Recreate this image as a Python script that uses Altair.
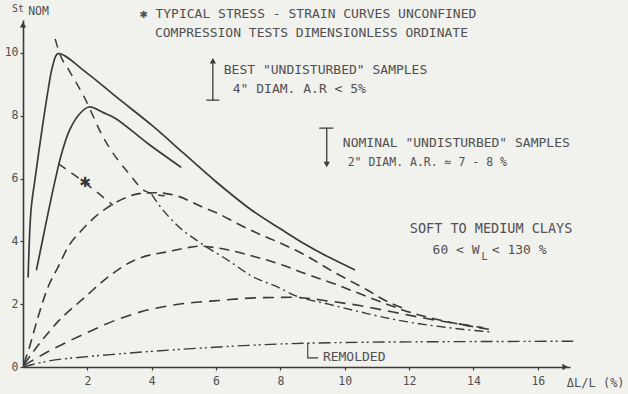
import altair as alt
import pandas as pd

# ---------------- data ----------------
# Best "undisturbed" samples (solid)
s1_x = [0.16, 0.25, 0.37, 0.59, 0.78, 0.93, 1.09, 2.0, 2.9, 4.0, 5.0, 6.0, 7.1, 8.0, 8.7, 9.5, 10.3]
s1_y = [2.87, 5.0, 5.96, 7.55, 8.82, 9.62, 9.98, 9.35, 8.6, 7.7, 6.8, 5.9, 5.0, 4.4, 3.95, 3.5, 3.1]
s2_x = [0.42, 0.62, 0.80, 1.0, 1.2, 1.45, 1.75, 2.05, 2.5, 2.9, 3.9, 4.9]
s2_y = [3.1, 4.1, 5.0, 5.95, 6.8, 7.55, 8.05, 8.28, 8.1, 7.9, 7.1, 6.37]

# Nominal "undisturbed" samples (dashed)
d1_x = [0.03, 0.19, 0.47, 0.78, 1.09, 1.4, 1.83, 2.24, 2.6, 3.17, 3.6, 4.1, 4.78, 5.56, 6.1, 6.6, 7.3, 8.06, 8.7, 9.7, 10.7, 11.2, 11.8]
d1_y = [0.1, 0.6, 1.6, 2.55, 3.18, 3.82, 4.36, 4.78, 5.06, 5.38, 5.52, 5.55, 5.45, 5.1, 4.87, 4.6, 4.25, 3.92, 3.6, 3.0, 2.45, 2.15, 1.88]
d2_x = [0.03, 0.5, 1.1, 1.9, 2.6, 3.4, 4.0, 4.4, 5.0, 5.5, 6.1, 7.1, 8.06, 8.7, 9.7, 10.8, 12.1, 13.3, 14.5]
d2_y = [0.08, 0.73, 1.46, 2.2, 2.83, 3.37, 3.58, 3.65, 3.78, 3.85, 3.78, 3.54, 3.25, 3.0, 2.64, 2.2, 1.72, 1.42, 1.2]
d3_x = [0.03, 0.8, 1.9, 2.9, 3.9, 5.0, 6.1, 7.2, 8.4, 9.5, 10.5, 11.5, 12.5, 13.5, 14.3]
d3_y = [0.05, 0.5, 1.05, 1.5, 1.82, 2.02, 2.12, 2.2, 2.22, 2.1, 1.95, 1.75, 1.55, 1.38, 1.25]

# locus lines of peaks
l1_x = [1.0, 1.15, 1.4, 1.9, 2.5, 3.3, 3.8, 4.4]
l1_y = [10.45, 9.95, 9.5, 8.6, 7.3, 6.15, 5.6, 5.45]
l2_x = [1.1, 1.97, 2.8]
l2_y = [6.47, 5.83, 5.15]

# dash-dot post-peak curve
dd_x = [4.0, 4.2, 4.7, 5.56, 6.4, 7.1, 7.97, 8.4, 9.5, 10.5, 11.5, 12.5, 13.5, 14.5]
dd_y = [5.5, 5.2, 4.6, 3.92, 3.38, 2.9, 2.52, 2.3, 2.0, 1.75, 1.52, 1.35, 1.22, 1.12]

# remolded (dash-dot-dot)
rm_x = [0.0, 0.3, 0.8, 2.0, 2.9, 4.0, 5.5, 7.0, 8.9, 10.0, 12.0, 14.0, 17.1]
rm_y = [0.0, 0.08, 0.19, 0.33, 0.41, 0.5, 0.6, 0.69, 0.76, 0.78, 0.8, 0.81, 0.82]

# leader for the REMOLDED label
ld_x = [8.85, 8.85, 9.16]
ld_y = [0.76, 0.29, 0.29]

# arrows beside the legend texts
best_arrow_x = [5.9, 5.9]
best_arrow_y = [8.5, 9.75]
best_bar_x = [5.71, 6.09]
best_bar_y = [8.5, 8.5]
nom_arrow_x = [9.44, 9.44]
nom_arrow_y = [7.61, 6.45]
nom_bar_x = [9.22, 9.63]
nom_bar_y = [7.61, 7.61]

x_ticks = [2, 4, 6, 8, 10, 12, 14, 16]
y_ticks = [0, 2, 4, 6, 8, 10]

# annotation texts
notes_text = [
    "✱ TYPICAL STRESS - STRAIN CURVES UNCONFINED",
    "COMPRESSION TESTS DIMENSIONLESS ORDINATE",
    "BEST \"UNDISTURBED\" SAMPLES",
    "4\" DIAM. A.R < 5%",
    "NOMINAL \"UNDISTURBED\" SAMPLES",
    "SOFT TO MEDIUM CLAYS",
    "60 < W",
    "< 130 %",
    "REMOLDED",
    "NOM",
]
notes_x = [3.63, 4.1, 6.24, 6.52, 9.94, 12.02, 12.73, 14.57, 9.32, 0.16]
notes_y = [11.24, 10.64, 9.46, 8.85, 7.13, 4.39, 3.73, 3.73, 0.32, 11.31]
notes_size = [13, 13, 13, 13, 13, 13.5, 13, 13, 13, 11.5]

narrow_text = ["2\" DIAM. A.R. ≈ 7 - 8 %", "ΔL/L (%)"]
narrow_x = [10.09, 16.9]
narrow_y = [6.5, -0.5]

small_text = ["L", "St"]
small_x = [14.25, -0.34]
small_y = [3.5, 11.4]

star_x = [1.93]
star_y = [5.86]

INK = "#3a3a3a"
TXT = "#505050"
FONT = "DejaVu Sans Mono"

X_DOM = [0, 17.0]
Y_DOM = [0, 11.05]

xaxis = alt.Axis(values=x_ticks, title=None, grid=False, tickSize=3, labelPadding=5,
                 domainColor=INK, tickColor=INK, domainWidth=1.6, tickWidth=1.2,
                 labelColor=TXT, labelFont=FONT, labelFontSize=11.5)
yaxis = alt.Axis(values=y_ticks, title=None, grid=False, tickSize=3, labelPadding=2,
                 domainColor=INK, tickColor=INK, domainWidth=1.6, tickWidth=1.2,
                 labelColor=TXT, labelFont=FONT, labelFontSize=11.5)


def enc(chart):
    return chart.encode(
        x=alt.X("x:Q", scale=alt.Scale(domain=X_DOM, nice=False, zero=False), axis=xaxis),
        y=alt.Y("y:Q", scale=alt.Scale(domain=Y_DOM, nice=False, zero=False), axis=yaxis),
    )


def line(xs, ys, dash=None, width=1.5, interp="monotone"):
    df = pd.DataFrame({"x": xs, "y": ys, "i": list(range(len(xs)))})
    kw = dict(color=INK, strokeWidth=width, interpolate=interp, strokeCap="round")
    if dash:
        kw["strokeDash"] = dash
        kw["strokeCap"] = "butt"
    return enc(alt.Chart(df).mark_line(**kw)).encode(order="i:Q")


def texts(ts, xs, ys, size, font=FONT):
    df = pd.DataFrame({"x": xs, "y": ys, "t": ts, "s": size})
    return enc(alt.Chart(df).mark_text(font=font, color=TXT, align="left", baseline="middle")).encode(
        text="t:N", size=alt.Size("s:Q", scale=None, legend=None))


layers = [
    line(s1_x, s1_y, width=1.7, interp="catmull-rom"),
    line(s2_x, s2_y, width=1.7, interp="catmull-rom"),
    line(d1_x, d1_y, dash=[10, 6], width=1.6),
    line(d2_x, d2_y, dash=[10, 6], width=1.6),
    line(d3_x, d3_y, dash=[11, 7], width=1.6),
    line(l1_x, l1_y, dash=[9, 7], width=1.5),
    line(l2_x, l2_y, dash=[9, 7], width=1.5),
    line(dd_x, dd_y, dash=[9, 4, 2, 4], width=1.4),
    line(rm_x, rm_y, dash=[12, 4, 2, 3, 2, 4], width=1.4),
    line(ld_x, ld_y, width=1.1, interp="linear"),
    line(best_arrow_x, best_arrow_y, width=1.3, interp="linear"),
    line(best_bar_x, best_bar_y, width=1.3, interp="linear"),
    line(nom_arrow_x, nom_arrow_y, width=1.3, interp="linear"),
    line(nom_bar_x, nom_bar_y, width=1.3, interp="linear"),
]

# arrow heads
heads = pd.DataFrame({
    "x": [16.85, 0.0, best_arrow_x[1], nom_arrow_x[1]],
    "y": [0.0, 10.9, best_arrow_y[1], nom_arrow_y[1]],
    "shape": ["triangle-right", "triangle-up", "triangle-up", "triangle-down"],
})
layers.append(enc(alt.Chart(heads).mark_point(filled=True, size=40, color=INK, opacity=1))
              .encode(shape=alt.Shape("shape:N", scale=None)))

# star marker on the locus line
stars = pd.DataFrame({"x": star_x, "y": star_y, "t": ["✱"] * len(star_x)})
layers.append(enc(alt.Chart(stars).mark_text(font="DejaVu Sans", fontSize=14, fontWeight="bold", color=INK))
              .encode(text="t:N"))

layers.append(texts(notes_text, notes_x, notes_y, notes_size))
layers.append(texts(narrow_text, narrow_x, narrow_y, [11.5, 12]))
layers.append(texts(small_text, small_x, small_y, [10, 10]))

chart = alt.layer(*layers).properties(
    width=547, height=347,
    autosize="none",
    padding={"left": 23, "top": 20, "right": 58, "bottom": 27},
    background="#f1f1ee",
).configure_view(strokeWidth=0)

chart.save("out.html", embed_options={"renderer": "svg", "actions": False})
